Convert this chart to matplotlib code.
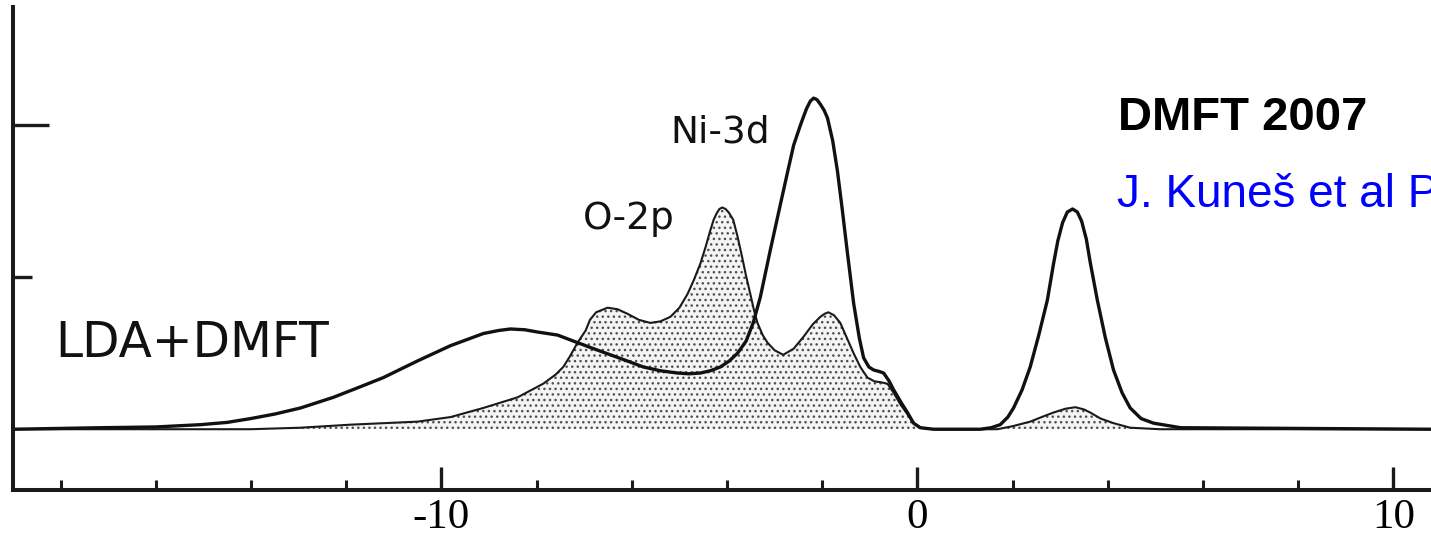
import matplotlib
matplotlib.use("Agg")
from matplotlib import pyplot as plt
from matplotlib.ticker import FixedLocator, NullFormatter

plt.rcParams['axes.unicode_minus'] = False

# LDA+DMFT total spectral function
total_x = [-18.99, -17.16, -16.00, -15.06, -14.50, -14.01, -13.50, -12.96, -12.27,
           -11.70, -11.22, -10.50, -9.81, -9.12, -8.80, -8.55, -8.25, -7.98, -7.56,
           -7.14, -6.80, -6.45, -6.10, -5.76, -5.40, -5.04, -4.80, -4.56, -4.35,
           -4.14, -3.95, -3.78, -3.60, -3.45, -3.30, -3.09, -2.90, -2.73, -2.60,
           -2.46, -2.39, -2.33, -2.25, -2.18, -2.11, -2.04, -1.96, -1.89, -1.78,
           -1.68, -1.58, -1.47, -1.34, -1.22, -1.13, -1.02, -0.92, -0.80, -0.71,
           -0.60, -0.50, -0.35, -0.21, -0.08, 0.06, 0.34, 1.32, 1.55, 1.74, 1.90,
           2.02, 2.20, 2.37, 2.55, 2.73, 2.86, 2.95, 3.05, 3.15, 3.26, 3.36, 3.45,
           3.55, 3.63, 3.78, 3.95, 4.12, 4.30, 4.47, 4.70, 4.96, 5.53, 10.8]
total_y = [0.00, 0.01, 0.015, 0.03, 0.045, 0.07, 0.10, 0.14, 0.21,
           0.28, 0.34, 0.45, 0.55, 0.63, 0.65, 0.66, 0.655, 0.64, 0.62,
           0.57, 0.53, 0.49, 0.45, 0.41, 0.385, 0.37, 0.365, 0.37, 0.385,
           0.41, 0.45, 0.50, 0.58, 0.70, 0.87, 1.18, 1.45, 1.69, 1.87,
           2.00, 2.06, 2.11, 2.16, 2.18, 2.17, 2.14, 2.10, 2.05, 1.90,
           1.70, 1.45, 1.16, 0.83, 0.60, 0.47, 0.41, 0.39, 0.38, 0.37,
           0.32, 0.26, 0.18, 0.11, 0.04, 0.01, 0.00, 0.00, 0.01, 0.03, 0.08,
           0.14, 0.26, 0.41, 0.62, 0.85, 1.09, 1.24, 1.36, 1.43, 1.45, 1.43, 1.37,
           1.25, 1.10, 0.85, 0.60, 0.39, 0.24, 0.14, 0.07, 0.04, 0.01, 0.00]

# O-2p partial spectral function (shaded)
o2p_x = [-18.99, -14.01, -12.96, -11.91, -10.50, -9.81, -9.12, -8.40, -7.86,
         -7.60, -7.44, -7.30, -7.14, -6.97, -6.88, -6.75, -6.51, -6.30, -6.09,
         -5.85, -5.61, -5.40, -5.19, -5.00, -4.83, -4.70, -4.56, -4.45, -4.35,
         -4.28, -4.22, -4.16, -4.10, -4.03, -3.97, -3.87, -3.78, -3.68, -3.60,
         -3.51, -3.43, -3.36, -3.25, -3.15, -3.00, -2.82, -2.60, -2.39, -2.20,
         -2.04, -1.95, -1.87, -1.75, -1.62, -1.48, -1.34, -1.20, -1.05, -0.90,
         -0.78, -0.63, -0.50, -0.35, -0.21, -0.08, 0.06, 0.34, 1.68, 2.00, 2.37,
         2.65, 2.86, 3.11, 3.32, 3.50, 3.63, 3.85, 4.12, 4.47, 5.10, 10.8]
o2p_y = [0.00, 0.00, 0.01, 0.03, 0.05, 0.08, 0.14, 0.21, 0.30,
         0.36, 0.41, 0.48, 0.57, 0.65, 0.72, 0.77, 0.80, 0.79, 0.76,
         0.72, 0.70, 0.71, 0.74, 0.80, 0.89, 0.98, 1.09, 1.20, 1.31,
         1.38, 1.42, 1.45, 1.46, 1.45, 1.43, 1.38, 1.27, 1.13, 1.01,
         0.89, 0.78, 0.70, 0.62, 0.57, 0.52, 0.49, 0.53, 0.61, 0.69,
         0.74, 0.76, 0.77, 0.75, 0.70, 0.60, 0.50, 0.41, 0.34, 0.315,
         0.31, 0.30, 0.24, 0.16, 0.10, 0.04, 0.01, 0.00, 0.00, 0.02, 0.05,
         0.085, 0.11, 0.135, 0.145, 0.13, 0.11, 0.07, 0.04, 0.01, 0.00, 0.00]

# axis ticks
major_x = [-10, 0, 10]
minor_x = [-18, -16, -14, -12, -8, -6, -4, -2, 2, 4, 6, 8]

fig = plt.figure(figsize=(14.31, 5.41), dpi=100)
ax = fig.add_axes([0.0091, 0.0943, 0.9909, 0.8928])

# shaded O-2p
ax.fill_between(o2p_x, o2p_y, 0, facecolor='#f4f4f4', edgecolor='#505050',
                hatch='...', linewidth=0)
ax.plot(o2p_x, o2p_y, color='#1a1a1a', lw=1.5)
ax.plot(total_x, total_y, color='#111111', lw=2.4)

ax.set_xlim(-19.0, 10.79)
ax.set_ylim(-0.40, 2.78)

# axes look
for side in ['top', 'right']:
    ax.spines[side].set_visible(False)
for side in ['left', 'bottom']:
    ax.spines[side].set_linewidth(2.9)
    ax.spines[side].set_color('#1a1a1a')

ax.xaxis.set_major_locator(FixedLocator(major_x))
ax.xaxis.set_minor_locator(FixedLocator(minor_x))
ax.yaxis.set_major_locator(FixedLocator([2]))
ax.yaxis.set_minor_locator(FixedLocator([1]))
ax.yaxis.set_major_formatter(NullFormatter())
ax.tick_params(axis='x', which='major', direction='in', length=16.5, width=2.4,
               color='#1a1a1a', pad=6)
ax.tick_params(axis='x', which='minor', direction='in', length=7, width=2.2,
               color='#1a1a1a')
ax.tick_params(axis='y', which='major', direction='in', length=26, width=2.4,
               color='#1a1a1a')
ax.tick_params(axis='y', which='minor', direction='in', length=14, width=2.4,
               color='#1a1a1a')
for lab in ax.get_xticklabels():
    lab.set_fontfamily('Liberation Serif')
    lab.set_fontsize(31)

# labels
ax.text(-18.11, 0.566, 'LDA+DMFT', fontsize=35, family='DejaVu Sans',
        ha='left', va='center', color='#111111')
ax.text(-7.02, 1.32, 'O-2p', fontsize=27, family='DejaVu Sans',
        ha='left', va='baseline', color='#111111')
ax.text(-5.19, 1.89, 'Ni-3d', fontsize=27, family='DejaVu Sans',
        ha='left', va='baseline', color='#111111')
ax.text(4.22, 1.97, 'DMFT 2007', fontsize=34, family='Liberation Sans',
        fontweight='bold', ha='left', va='baseline', color='black')
ax.text(4.20, 1.46, 'J. Kuneš et al PR', fontsize=33, family='Liberation Sans',
        ha='left', va='baseline', color='#0000ff')

fig.savefig('out.png', dpi=100)
